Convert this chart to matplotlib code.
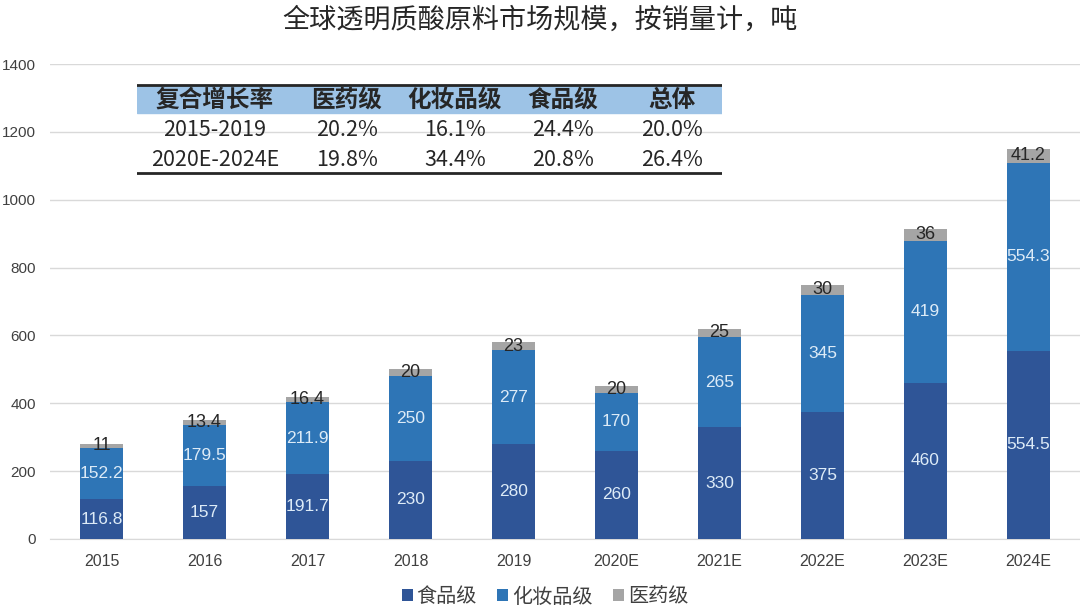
import matplotlib
matplotlib.use("Agg")
import matplotlib.pyplot as plt
import numpy as np
from matplotlib.patches import Rectangle

plt.rcParams['font.family'] = ['Noto Sans CJK SC', 'DejaVu Sans']

categories = ["2015", "2016", "2017", "2018", "2019", "2020E", "2021E", "2022E", "2023E", "2024E"]
food = [116.8, 157, 191.7, 230, 280, 260, 330, 375, 460, 554.5]
cosmetic = [152.2, 179.5, 211.9, 250, 277, 170, 265, 345, 419, 554.3]
pharma = [11, 13.4, 16.4, 20, 23, 20, 25, 30, 36, 41.2]
series_names = ["食品级", "化妆品级", "医药级"]

table_header = ["复合增长率", "医药级", "化妆品级", "食品级", "总体"]
table_rows = [
    ["2015-2019", "20.2%", "16.1%", "24.4%", "20.0%"],
    ["2020E-2024E", "19.8%", "34.4%", "20.8%", "26.4%"],
]

W, H = 1080, 614
fig = plt.figure(figsize=(W / 100, H / 100), dpi=100)

def px_axes(x0, y0, x1, y1):
    return fig.add_axes([x0 / W, 1 - y1 / H, (x1 - x0) / W, (y1 - y0) / H])

NUM_FONT = ["Liberation Sans", "DejaVu Sans"]

ax = px_axes(50, 64, 1080, 539)
x = np.arange(len(categories))
c_food, c_cos, c_ph = "#2F5597", "#2E75B6", "#A5A5A5"
bw = 0.41
b1 = ax.bar(x, food, bw, color=c_food, label=series_names[0], zorder=3)
b2 = ax.bar(x, cosmetic, bw, bottom=food, color=c_cos, label=series_names[1], zorder=3)
bottom3 = np.array(food) + np.array(cosmetic)
b3 = ax.bar(x, pharma, bw, bottom=bottom3, color=c_ph, label=series_names[2], zorder=3)

def fmt(v):
    return f"{v:g}"

for i in range(len(categories)):
    ax.text(x[i], food[i] / 2, fmt(food[i]), ha="center", va="center",
            color="#DDEBF7", fontsize=12.5, zorder=4, family=NUM_FONT)
    ax.text(x[i], food[i] + cosmetic[i] / 2, fmt(cosmetic[i]), ha="center", va="center",
            color="#DDEBF7", fontsize=12.5, zorder=4, family=NUM_FONT)
    ax.text(x[i], bottom3[i] + pharma[i] / 2, fmt(pharma[i]), ha="center", va="center",
            color="#262626", fontsize=13, zorder=4, family=NUM_FONT)

ax.set_xlim(-0.5, len(categories) - 0.5)
ax.set_ylim(0, 1400)
ax.set_yticks(range(0, 1401, 200))
ax.set_xticks(x)
ax.set_xticklabels(categories)
ax.grid(axis="y", color="#D9D9D9", linewidth=1, zorder=0)
for s in ["top", "right", "left"]:
    ax.spines[s].set_visible(False)
ax.spines["bottom"].set_color("#D9D9D9")
ax.tick_params(axis="x", length=0, labelsize=11.5, colors="#404040", pad=11)
ax.tick_params(axis="y", length=0, labelsize=11, colors="#404040", pad=10)
for lab in ax.get_xticklabels() + ax.get_yticklabels():
    lab.set_family(NUM_FONT)
ax.set_facecolor("none")

fig.text(540 / W, 1 - 20 / H, "全球透明质酸原料市场规模，按销量计，吨", ha="center", va="center",
         fontsize=19.5, color="#262626")

fig.legend(handles=[b1, b2, b3], labels=series_names, loc="center", bbox_to_anchor=(545 / W, 1 - 597 / H),
           ncol=3, frameon=False, fontsize=14.5, handlelength=0.55, handleheight=0.55, handletextpad=0.2,
           columnspacing=1.0, labelcolor="#404040")

# Table
tax = px_axes(137, 82, 722, 175)
tax.set_xlim(137, 722)
tax.set_ylim(175, 82)
tax.axis("off")
tax.add_patch(Rectangle((137, 85), 585, 28, color="#9DC3E6", zorder=1))
tax.plot([137, 722], [85, 85], color="#262626", lw=2, zorder=2)
tax.plot([137, 722], [173, 173], color="#262626", lw=2, zorder=2)
col_x = [215, 347, 455, 563, 672]
for cx, t in zip(col_x, table_header):
    tax.text(cx, 100, t, ha="center", va="center", fontsize=17, fontweight="bold", color="#262626")
for ry, row in zip([130, 160], table_rows):
    for cx, t in zip(col_x, row):
        tax.text(cx, ry, t, ha="center", va="center", fontsize=15.5, fontweight="light", color="#262626")

fig.savefig("out.png", dpi=100)
